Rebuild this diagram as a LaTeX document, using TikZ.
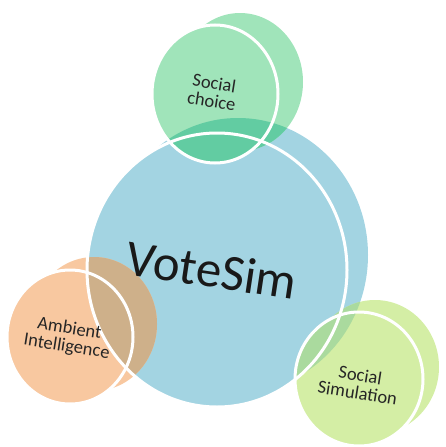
\documentclass[tikz,border=0pt]{standalone}
\usepackage{fontspec}
\setmainfont{Carlito}
\usetikzlibrary{positioning}

\definecolor{votesimblue}{RGB}{163,212,226}
\definecolor{choicegreen}{RGB}{160,228,186}
\definecolor{ambientorange}{RGB}{248,200,160}
\definecolor{simlime}{RGB}{212,238,165}
\definecolor{choiceover}{RGB}{98,204,162}
\definecolor{ambientover}{RGB}{206,176,138}
\definecolor{simover}{RGB}{170,218,158}

% discs: back copy and front copy of each
\newcommand{\blueback}{(238,255) ellipse [x radius=130, y radius=137]}
\newcommand{\bluefront}{(217,270) ellipse [x radius=130, y radius=137]}
\newcommand{\choiceback}{(240,82) ellipse [x radius=63, y radius=69]}
\newcommand{\choicefront}{(215,94) ellipse [x radius=63, y radius=69]}
\newcommand{\ambientback}{(94,324) ellipse [x radius=63, y radius=67]}
\newcommand{\ambientfront}{(70,337) ellipse [x radius=63, y radius=67]}
\newcommand{\simback}{(375,367) ellipse [x radius=64, y radius=67]}
\newcommand{\simfront}{(359,379) ellipse [x radius=64, y radius=67]}

\begin{document}
\begin{tikzpicture}[x=1pt, y=-1pt,
  rim/.style={draw=white, line width=3pt},
  lbl/.style={font=\fontsize{18.5}{18}\selectfont, text=black!85, align=center, rotate=-9},
]
\useasboundingbox (0,0) rectangle (445,447);

% fills
\fill[votesimblue] \blueback \bluefront;
\fill[choicegreen] \choiceback \choicefront;
\fill[ambientorange] \ambientback \ambientfront;
\fill[simlime] \simback \simfront;

% overlaps with the big disc
\begin{scope}
  \clip \blueback \bluefront;
  \fill[choiceover] \choiceback \choicefront;
  \fill[ambientover] \ambientback \ambientfront;
  \fill[simover] \simback \simfront;
\end{scope}

% white rims
\draw[rim] \bluefront;
\draw[rim] \choicefront;
\draw[rim] \ambientfront;
\draw[rim] \simfront;

% labels
\node[font=\fontsize{51}{51}\selectfont, text=black!90, rotate=-8.5] (votesim) at (212,270) {VoteSim};
\node[lbl] (choice) at (213,92) {Social\\choice};
\node[lbl] (ambient) at (68,338) {Ambient\\Intelligence};
\node[lbl] (simulation) at (359,384) {Social\\Simulation};
\end{tikzpicture}
\end{document}
